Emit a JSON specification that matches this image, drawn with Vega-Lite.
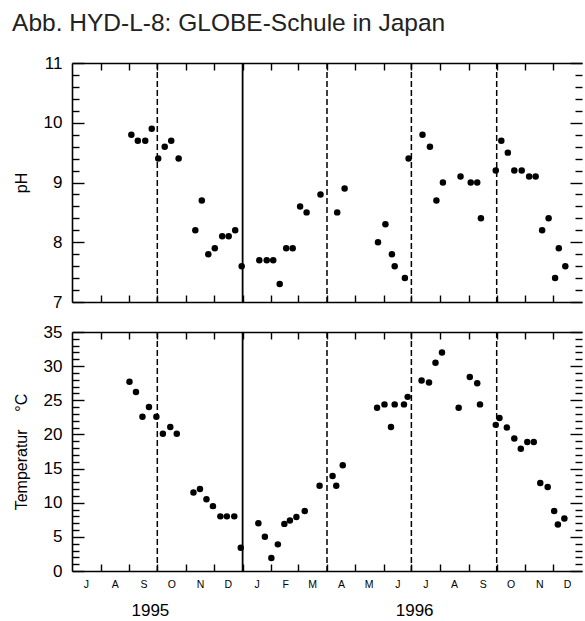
{
"$schema": "https://vega.github.io/schema/vega-lite/v6.json",
"padding": {"left": 12, "top": 10, "right": 0, "bottom": 0},
"title": {"text": "Abb. HYD-L-8: GLOBE-Schule in Japan", "anchor": "start", "frame": "bounds", "fontSize": 24.5, "fontWeight": "normal", "font": "Liberation Sans", "color": "#222222", "offset": 18, "dx": -1},
"datasets": {
"ph": [
{"date":"1995-09-03","ph":9.8},{"date":"1995-09-10","ph":9.7},{"date":"1995-09-18","ph":9.7},{"date":"1995-09-25","ph":9.9},
{"date":"1995-10-02","ph":9.4},{"date":"1995-10-09","ph":9.6},{"date":"1995-10-16","ph":9.7},{"date":"1995-10-24","ph":9.4},
{"date":"1995-11-11","ph":8.2},{"date":"1995-11-18","ph":8.7},{"date":"1995-11-25","ph":7.8},{"date":"1995-12-02","ph":7.9},
{"date":"1995-12-10","ph":8.1},{"date":"1995-12-17","ph":8.1},{"date":"1995-12-24","ph":8.2},{"date":"1995-12-31","ph":7.6},
{"date":"1996-01-19","ph":7.7},{"date":"1996-01-27","ph":7.7},{"date":"1996-02-03","ph":7.7},{"date":"1996-02-10","ph":7.3},
{"date":"1996-02-17","ph":7.9},{"date":"1996-02-24","ph":7.9},{"date":"1996-03-03","ph":8.6},{"date":"1996-03-10","ph":8.5},
{"date":"1996-03-25","ph":8.8},{"date":"1996-04-12","ph":8.5},{"date":"1996-04-20","ph":8.9},{"date":"1996-05-26","ph":8.0},
{"date":"1996-06-03","ph":8.3},{"date":"1996-06-10","ph":7.8},{"date":"1996-06-13","ph":7.6},{"date":"1996-06-24","ph":7.4},
{"date":"1996-06-28","ph":9.4},{"date":"1996-07-13","ph":9.8},{"date":"1996-07-21","ph":9.6},{"date":"1996-07-28","ph":8.7},
{"date":"1996-08-04","ph":9.0},{"date":"1996-08-23","ph":9.1},{"date":"1996-09-03","ph":9.0},{"date":"1996-09-10","ph":9.0},
{"date":"1996-09-14","ph":8.4},{"date":"1996-09-30","ph":9.2},{"date":"1996-10-06","ph":9.7},{"date":"1996-10-13","ph":9.5},
{"date":"1996-10-20","ph":9.2},{"date":"1996-10-28","ph":9.2},{"date":"1996-11-05","ph":9.1},{"date":"1996-11-12","ph":9.1},
{"date":"1996-11-19","ph":8.2},{"date":"1996-11-26","ph":8.4},{"date":"1996-12-03","ph":7.4},{"date":"1996-12-07","ph":7.9},
{"date":"1996-12-14","ph":7.6}
],
"temp": [
{"date":"1995-09-01","t":27.7},{"date":"1995-09-08","t":26.2},{"date":"1995-09-15","t":22.6},{"date":"1995-09-22","t":24.0},
{"date":"1995-09-30","t":22.6},{"date":"1995-10-07","t":20.1},{"date":"1995-10-15","t":21.1},{"date":"1995-10-22","t":20.1},
{"date":"1995-11-09","t":11.5},{"date":"1995-11-16","t":12.0},{"date":"1995-11-23","t":10.5},{"date":"1995-11-30","t":9.5},
{"date":"1995-12-08","t":8.0},{"date":"1995-12-15","t":8.0},{"date":"1995-12-23","t":8.0},{"date":"1995-12-30","t":3.4},
{"date":"1996-01-18","t":7.0},{"date":"1996-01-25","t":5.0},{"date":"1996-02-01","t":1.9},{"date":"1996-02-08","t":3.9},
{"date":"1996-02-15","t":6.9},{"date":"1996-02-21","t":7.4},{"date":"1996-02-28","t":7.9},{"date":"1996-03-08","t":8.8},
{"date":"1996-03-24","t":12.5},{"date":"1996-04-07","t":13.9},{"date":"1996-04-11","t":12.5},{"date":"1996-04-18","t":15.5},
{"date":"1996-05-25","t":23.9},{"date":"1996-06-02","t":24.4},{"date":"1996-06-09","t":21.1},{"date":"1996-06-13","t":24.4},
{"date":"1996-06-23","t":24.4},{"date":"1996-06-27","t":25.5},{"date":"1996-07-12","t":27.9},{"date":"1996-07-20","t":27.6},
{"date":"1996-07-27","t":30.5},{"date":"1996-08-03","t":32.0},{"date":"1996-08-21","t":23.9},{"date":"1996-09-02","t":28.4},
{"date":"1996-09-10","t":27.5},{"date":"1996-09-13","t":24.4},{"date":"1996-09-30","t":21.4},{"date":"1996-10-04","t":22.4},
{"date":"1996-10-12","t":21.0},{"date":"1996-10-20","t":19.4},{"date":"1996-10-27","t":17.9},{"date":"1996-11-03","t":18.9},
{"date":"1996-11-10","t":18.9},{"date":"1996-11-17","t":12.9},{"date":"1996-11-25","t":12.3},{"date":"1996-12-02","t":8.8},
{"date":"1996-12-06","t":6.8},{"date":"1996-12-13","t":7.7}
],
"quarters": [{"date":"1995-10-01"},{"date":"1996-04-01"},{"date":"1996-07-01"},{"date":"1996-10-01"}],
"yearline": [{"date":"1996-01-01"}]
},
"spacing": 13,
"vconcat": [
{
"width": 510, "height": 239,
"resolve": {"axis": {"x": "independent", "y": "independent"}},
"layer": [
{"data": {"name": "quarters"}, "mark": {"type": "rule", "color": "black", "strokeWidth": 1.5, "strokeDash": [6, 3]},
 "encoding": {"x": {"field": "date", "type": "temporal", "scale": {"type": "utc", "nice": false, "domain": [{"year":1995,"month":7,"date":1,"utc":true},{"year":1997,"month":1,"date":1,"utc":true}]}, "axis": null}}},
{"data": {"name": "yearline"}, "mark": {"type": "rule", "color": "black", "strokeWidth": 1.8},
 "encoding": {"x": {"field": "date", "type": "temporal", "scale": {"type": "utc", "nice": false, "domain": [{"year":1995,"month":7,"date":1,"utc":true},{"year":1997,"month":1,"date":1,"utc":true}]}, "axis": null}}},
{"data": {"name": "ph"}, "mark": {"type": "circle", "color": "black", "opacity": 1, "size": 42},
 "encoding": {
  "x": {"field": "date", "type": "temporal", "scale": {"type": "utc", "nice": false, "domain": [{"year":1995,"month":7,"date":1,"utc":true},{"year":1997,"month":1,"date":1,"utc":true}]},
   "axis": {"orient": "bottom", "title": null, "labels": false, "domain": true, "tickSize": -7, "values": [{"year":1995,"month":8,"date":1,"utc":true},{"year":1995,"month":9,"date":1,"utc":true},{"year":1995,"month":10,"date":1,"utc":true},{"year":1995,"month":11,"date":1,"utc":true},{"year":1995,"month":12,"date":1,"utc":true},{"year":1996,"month":1,"date":1,"utc":true},{"year":1996,"month":2,"date":1,"utc":true},{"year":1996,"month":3,"date":1,"utc":true},{"year":1996,"month":4,"date":1,"utc":true},{"year":1996,"month":5,"date":1,"utc":true},{"year":1996,"month":6,"date":1,"utc":true},{"year":1996,"month":7,"date":1,"utc":true},{"year":1996,"month":8,"date":1,"utc":true},{"year":1996,"month":9,"date":1,"utc":true},{"year":1996,"month":10,"date":1,"utc":true},{"year":1996,"month":11,"date":1,"utc":true},{"year":1996,"month":12,"date":1,"utc":true}]}},
  "y": {"field": "ph", "type": "quantitative", "scale": {"domain": [7, 11], "nice": false, "zero": false},
   "axis": {"orient": "left", "title": "pH", "values": [7, 8, 9, 10, 11], "ticks": false, "domain": true, "labelFontSize": 17, "labelPadding": 10, "titleFontSize": 16, "titleFontWeight": "normal", "titlePadding": 14}}
 }},
{"data": {"name": "ph"}, "mark": {"type": "point", "opacity": 0},
 "encoding": {
  "x": {"field": "date", "type": "temporal", "scale": {"type": "utc", "nice": false, "domain": [{"year":1995,"month":7,"date":1,"utc":true},{"year":1997,"month":1,"date":1,"utc":true}]},
   "axis": {"orient": "top", "title": null, "labels": false, "domain": true, "tickSize": -7, "values": [{"year":1995,"month":8,"date":1,"utc":true},{"year":1995,"month":9,"date":1,"utc":true},{"year":1995,"month":10,"date":1,"utc":true},{"year":1995,"month":11,"date":1,"utc":true},{"year":1995,"month":12,"date":1,"utc":true},{"year":1996,"month":1,"date":1,"utc":true},{"year":1996,"month":2,"date":1,"utc":true},{"year":1996,"month":3,"date":1,"utc":true},{"year":1996,"month":4,"date":1,"utc":true},{"year":1996,"month":5,"date":1,"utc":true},{"year":1996,"month":6,"date":1,"utc":true},{"year":1996,"month":7,"date":1,"utc":true},{"year":1996,"month":8,"date":1,"utc":true},{"year":1996,"month":9,"date":1,"utc":true},{"year":1996,"month":10,"date":1,"utc":true},{"year":1996,"month":11,"date":1,"utc":true},{"year":1996,"month":12,"date":1,"utc":true}]}},
  "y": {"field": "ph", "type": "quantitative", "scale": {"domain": [7, 11], "nice": false, "zero": false},
   "axis": {"orient": "left", "title": null, "labels": false, "domain": false, "tickSize": -12, "values": [7, 8, 9, 10, 11]}}
 }},
{"data": {"name": "ph"}, "mark": {"type": "point", "opacity": 0},
 "encoding": {
  "x": {"field": "date", "type": "temporal", "scale": {"type": "utc", "nice": false, "domain": [{"year":1995,"month":7,"date":1,"utc":true},{"year":1997,"month":1,"date":1,"utc":true}]}, "axis": null},
  "y": {"field": "ph", "type": "quantitative", "scale": {"domain": [7, 11], "nice": false, "zero": false},
   "axis": {"orient": "left", "title": null, "labels": false, "domain": false, "tickSize": -7, "values": [7.2, 7.4, 7.6, 7.8, 8.2, 8.4, 8.6, 8.8, 9.2, 9.4, 9.6, 9.8, 10.2, 10.4, 10.6, 10.8]}}
 }},
{"data": {"name": "ph"}, "mark": {"type": "point", "opacity": 0},
 "encoding": {
  "x": {"field": "date", "type": "temporal", "scale": {"type": "utc", "nice": false, "domain": [{"year":1995,"month":7,"date":1,"utc":true},{"year":1997,"month":1,"date":1,"utc":true}]}, "axis": null},
  "y": {"field": "ph", "type": "quantitative", "scale": {"domain": [7, 11], "nice": false, "zero": false},
   "axis": {"orient": "right", "title": null, "labels": false, "domain": false, "tickSize": -12, "values": [7, 8, 9, 10, 11]}}
 }},
{"data": {"name": "ph"}, "mark": {"type": "point", "opacity": 0},
 "encoding": {
  "x": {"field": "date", "type": "temporal", "scale": {"type": "utc", "nice": false, "domain": [{"year":1995,"month":7,"date":1,"utc":true},{"year":1997,"month":1,"date":1,"utc":true}]}, "axis": null},
  "y": {"field": "ph", "type": "quantitative", "scale": {"domain": [7, 11], "nice": false, "zero": false},
   "axis": {"orient": "right", "title": null, "labels": false, "domain": false, "tickSize": -7, "values": [7.2, 7.4, 7.6, 7.8, 8.2, 8.4, 8.6, 8.8, 9.2, 9.4, 9.6, 9.8, 10.2, 10.4, 10.6, 10.8]}}
 }}
]
},
{
"width": 510, "height": 239,
"resolve": {"axis": {"x": "independent", "y": "independent"}},
"layer": [
{"data": {"name": "quarters"}, "mark": {"type": "rule", "color": "black", "strokeWidth": 1.5, "strokeDash": [6, 3]},
 "encoding": {"x": {"field": "date", "type": "temporal", "scale": {"type": "utc", "nice": false, "domain": [{"year":1995,"month":7,"date":1,"utc":true},{"year":1997,"month":1,"date":1,"utc":true}]}, "axis": null}}},
{"data": {"name": "yearline"}, "mark": {"type": "rule", "color": "black", "strokeWidth": 1.8},
 "encoding": {"x": {"field": "date", "type": "temporal", "scale": {"type": "utc", "nice": false, "domain": [{"year":1995,"month":7,"date":1,"utc":true},{"year":1997,"month":1,"date":1,"utc":true}]}, "axis": null}}},
{"data": {"name": "temp"}, "mark": {"type": "circle", "color": "black", "opacity": 1, "size": 42},
 "encoding": {
  "x": {"field": "date", "type": "temporal", "scale": {"type": "utc", "nice": false, "domain": [{"year":1995,"month":7,"date":1,"utc":true},{"year":1997,"month":1,"date":1,"utc":true}]},
   "axis": {"orient": "bottom", "title": null, "labels": false, "domain": true, "tickSize": -7, "values": [{"year":1995,"month":8,"date":1,"utc":true},{"year":1995,"month":9,"date":1,"utc":true},{"year":1995,"month":10,"date":1,"utc":true},{"year":1995,"month":11,"date":1,"utc":true},{"year":1995,"month":12,"date":1,"utc":true},{"year":1996,"month":1,"date":1,"utc":true},{"year":1996,"month":2,"date":1,"utc":true},{"year":1996,"month":3,"date":1,"utc":true},{"year":1996,"month":4,"date":1,"utc":true},{"year":1996,"month":5,"date":1,"utc":true},{"year":1996,"month":6,"date":1,"utc":true},{"year":1996,"month":7,"date":1,"utc":true},{"year":1996,"month":8,"date":1,"utc":true},{"year":1996,"month":9,"date":1,"utc":true},{"year":1996,"month":10,"date":1,"utc":true},{"year":1996,"month":11,"date":1,"utc":true},{"year":1996,"month":12,"date":1,"utc":true}]}},
  "y": {"field": "t", "type": "quantitative", "scale": {"domain": [0, 35], "nice": false, "zero": false},
   "axis": {"orient": "left", "title": "Temperatur\u00a0\u00a0\u00a0\u00a0°C", "values": [0, 5, 10, 15, 20, 25, 30, 35], "ticks": false, "domain": true, "labelFontSize": 17, "labelPadding": 10, "titleFontSize": 16, "titleFontWeight": "normal", "titlePadding": 14}}
 }},
{"data": {"name": "temp"}, "mark": {"type": "point", "opacity": 0},
 "encoding": {
  "x": {"field": "date", "type": "temporal", "scale": {"type": "utc", "nice": false, "domain": [{"year":1995,"month":7,"date":1,"utc":true},{"year":1997,"month":1,"date":1,"utc":true}]},
   "axis": {"orient": "top", "title": null, "labels": false, "domain": true, "tickSize": -7, "values": [{"year":1995,"month":8,"date":1,"utc":true},{"year":1995,"month":9,"date":1,"utc":true},{"year":1995,"month":10,"date":1,"utc":true},{"year":1995,"month":11,"date":1,"utc":true},{"year":1995,"month":12,"date":1,"utc":true},{"year":1996,"month":1,"date":1,"utc":true},{"year":1996,"month":2,"date":1,"utc":true},{"year":1996,"month":3,"date":1,"utc":true},{"year":1996,"month":4,"date":1,"utc":true},{"year":1996,"month":5,"date":1,"utc":true},{"year":1996,"month":6,"date":1,"utc":true},{"year":1996,"month":7,"date":1,"utc":true},{"year":1996,"month":8,"date":1,"utc":true},{"year":1996,"month":9,"date":1,"utc":true},{"year":1996,"month":10,"date":1,"utc":true},{"year":1996,"month":11,"date":1,"utc":true},{"year":1996,"month":12,"date":1,"utc":true}]}},
  "y": {"field": "t", "type": "quantitative", "scale": {"domain": [0, 35], "nice": false, "zero": false},
   "axis": {"orient": "left", "title": null, "labels": false, "domain": false, "tickSize": -12, "values": [0, 5, 10, 15, 20, 25, 30, 35]}}
 }},
{"data": {"name": "temp"}, "mark": {"type": "point", "opacity": 0},
 "encoding": {
  "x": {"field": "date", "type": "temporal", "scale": {"type": "utc", "nice": false, "domain": [{"year":1995,"month":7,"date":1,"utc":true},{"year":1997,"month":1,"date":1,"utc":true}]},
   "axis": {"orient": "bottom", "title": null, "ticks": false, "domain": false, "labelFontSize": 10.5, "labelPadding": 8, "labelFlush": false, "labelOverlap": false, "labelBound": false, "labelExpr": "slice(utcFormat(datum.value, '%B'), 0, 1)", "values": [{"year":1995,"month":7,"date":16,"utc":true},{"year":1995,"month":8,"date":16,"utc":true},{"year":1995,"month":9,"date":16,"utc":true},{"year":1995,"month":10,"date":16,"utc":true},{"year":1995,"month":11,"date":16,"utc":true},{"year":1995,"month":12,"date":16,"utc":true},{"year":1996,"month":1,"date":16,"utc":true},{"year":1996,"month":2,"date":16,"utc":true},{"year":1996,"month":3,"date":16,"utc":true},{"year":1996,"month":4,"date":16,"utc":true},{"year":1996,"month":5,"date":16,"utc":true},{"year":1996,"month":6,"date":16,"utc":true},{"year":1996,"month":7,"date":16,"utc":true},{"year":1996,"month":8,"date":16,"utc":true},{"year":1996,"month":9,"date":16,"utc":true},{"year":1996,"month":10,"date":16,"utc":true},{"year":1996,"month":11,"date":16,"utc":true},{"year":1996,"month":12,"date":16,"utc":true}]}},
  "y": {"field": "t", "type": "quantitative", "scale": {"domain": [0, 35], "nice": false, "zero": false},
   "axis": {"orient": "left", "title": null, "labels": false, "domain": false, "tickSize": -7, "values": [1, 2, 3, 4, 6, 7, 8, 9, 11, 12, 13, 14, 16, 17, 18, 19, 21, 22, 23, 24, 26, 27, 28, 29, 31, 32, 33, 34]}}
 }},
{"data": {"name": "temp"}, "mark": {"type": "point", "opacity": 0},
 "encoding": {
  "x": {"field": "date", "type": "temporal", "scale": {"type": "utc", "nice": false, "domain": [{"year":1995,"month":7,"date":1,"utc":true},{"year":1997,"month":1,"date":1,"utc":true}]},
   "axis": {"orient": "bottom", "title": null, "ticks": false, "domain": false, "labelFontSize": 17, "labelPadding": 31, "labelFlush": false, "labelOverlap": false, "labelBound": false, "labelExpr": "utcFormat(datum.value, '%Y')", "values": [{"year":1995,"month":9,"date":23,"utc":true},{"year":1996,"month":7,"date":4,"utc":true}]}},
  "y": {"field": "t", "type": "quantitative", "scale": {"domain": [0, 35], "nice": false, "zero": false},
   "axis": {"orient": "right", "title": null, "labels": false, "domain": false, "tickSize": -12, "values": [0, 5, 10, 15, 20, 25, 30, 35]}}
 }},
{"data": {"name": "temp"}, "mark": {"type": "point", "opacity": 0},
 "encoding": {
  "x": {"field": "date", "type": "temporal", "scale": {"type": "utc", "nice": false, "domain": [{"year":1995,"month":7,"date":1,"utc":true},{"year":1997,"month":1,"date":1,"utc":true}]}, "axis": null},
  "y": {"field": "t", "type": "quantitative", "scale": {"domain": [0, 35], "nice": false, "zero": false},
   "axis": {"orient": "right", "title": null, "labels": false, "domain": false, "tickSize": -7, "values": [1, 2, 3, 4, 6, 7, 8, 9, 11, 12, 13, 14, 16, 17, 18, 19, 21, 22, 23, 24, 26, 27, 28, 29, 31, 32, 33, 34]}}
 }}
]
}
],
"config": {
 "view": {"stroke": null},
 "axis": {"grid": false, "domainColor": "black", "domainWidth": 1.6, "tickColor": "black", "tickWidth": 1.4, "labelColor": "black", "titleColor": "black", "labelFont": "Liberation Sans", "titleFont": "Liberation Sans", "labelFlush": false, "labelOverlap": false}
}
}
